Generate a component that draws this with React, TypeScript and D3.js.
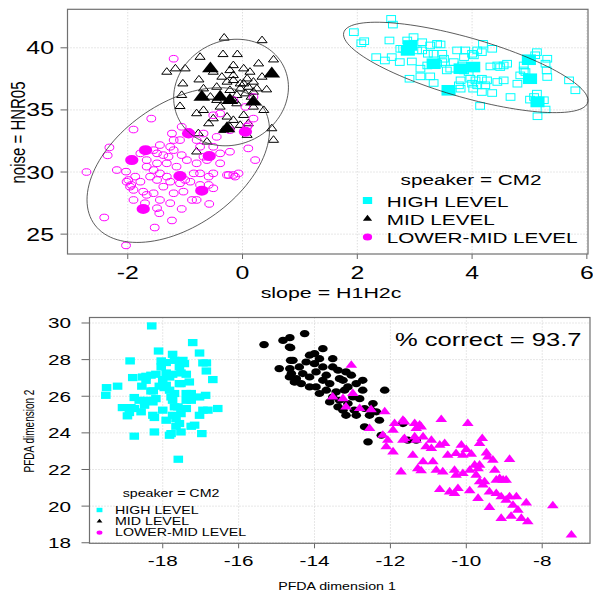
import React, { useRef, useEffect } from 'react';
import * as d3 from 'd3';

type Pt = [number, number];

const levels = ['HIGH LEVEL', 'MID LEVEL', 'LOWER-MID LEVEL'];
const levelColors = ['#00ffff', '#000000', '#ff00ff'];

// top panel: slope = H1H2c (x) vs noise = HNR05 (y)
const highTokens: Pt[] = [
  [1.94, 41.26], [2.59, 42.33], [2.62, 41.87], [2.07, 40.37], [2.12, 40.53], [2.33, 39.25], [2.48, 38.98],
  [2.56, 40.59], [2.74, 38.85], [2.95, 38.9], [2.8, 39.92], [2.87, 40.59], [2.98, 40.86], [3.13, 40.45],
  [3.27, 40.19], [3.39, 40.32], [3.45, 40.27], [3.13, 39.79], [3.23, 39.52], [3.22, 38.58], [3.39, 38.72],
  [3.48, 39.52], [3.51, 39.12], [2.91, 37.51], [3.1, 37.7], [3.27, 37.7], [3.33, 37.17], [3.77, 36.98],
  [3.8, 36.71], [3.68, 38.85], [3.86, 39.25], [4.03, 39.39], [3.74, 39.79], [3.88, 39.79], [4.0, 39.52],
  [4.09, 39.79], [4.19, 40.32], [4.17, 39.65], [4.35, 39.92], [4.06, 37.38], [4.09, 36.98], [4.02, 36.71],
  [4.17, 36.44], [4.35, 36.36], [4.44, 37.25], [4.55, 37.38], [4.14, 35.32], [4.67, 36.04], [4.49, 38.45],
  [4.55, 38.58], [4.61, 38.72], [4.84, 37.78], [4.9, 38.18], [4.93, 38.05], [5.13, 39.65], [5.31, 39.12],
  [5.28, 38.72], [5.3, 38.18], [5.31, 37.65], [5.13, 36.31], [5.01, 35.83], [5.28, 35.03], [5.14, 34.49],
  [5.69, 37.38], [5.8, 36.58], [4.26, 37.38], [4.32, 38.5], [3.83, 38.58], [3.94, 38.05], [3.86, 38.18],
  [3.62, 38.32], [3.48, 38.85], [3.56, 38.18], [4.0, 37.11], [4.17, 37.51], [3.04, 39.79], [2.9, 40.05],
  [3.33, 39.52], [2.75, 39.92], [5.1, 39.4], [4.9, 38.58], [5.08, 36.04], [5.25, 35.78], [4.79, 37.11],
  [4.44, 38.58], [3.1, 38.32], [3.97, 37.51], [3.8, 37.38], [2.6, 39.25], [4.23, 36.98],
];
const highMeans: Pt[] = [
  [2.92, 40.19], [2.88, 39.79], [3.33, 38.72], [3.59, 36.58], [4.02, 38.45], [3.8, 38.32],
  [4.99, 39.04], [5.01, 37.51], [5.14, 35.64],
];
const midTokens: Pt[] = [
  [-0.32, 40.8], [0.34, 40.59], [0.54, 39.04], [-0.74, 39.25], [-0.34, 39.47], [-0.09, 39.47], [-1.32, 38.05],
  [-1.17, 38.32], [-1.04, 37.11], [-0.76, 37.43], [-0.36, 37.65], [-0.22, 38.18], [0.02, 38.32], [-0.16, 37.38],
  [0.08, 37.51], [0.19, 37.25], [0.25, 36.71], [0.42, 36.63], [-0.04, 36.71], [0.05, 36.31], [-1.06, 36.18],
  [-0.68, 36.71], [-0.56, 36.04], [-0.39, 35.24], [-0.16, 35.78], [-0.1, 35.51], [-1.09, 35.29], [-0.8, 34.71],
  [-0.51, 34.3], [-0.27, 34.44], [-0.16, 34.17], [0.02, 34.57], [0.19, 35.24], [-0.04, 33.77], [-0.33, 33.37],
  [0.51, 33.5], [0.54, 32.57], [-0.77, 33.1], [-0.62, 32.43], [-0.8, 31.63], [-0.45, 35.78], [0.15, 36.04],
  [-0.22, 36.58], [-0.1, 36.18], [0.1, 36.84], [0.34, 37.65], [-0.51, 38.05], [-1.0, 38.32], [-0.16, 37.78],
  [0.13, 38.05], [-0.27, 37.25], [-0.04, 37.11], [-0.45, 36.84], [0.37, 34.97], [-0.68, 34.97], [-0.59, 33.9],
  [-0.22, 33.64], [0.1, 33.9], [0.08, 32.97], [-0.16, 38.58], [0.28, 38.72], [0.02, 37.11], [0.19, 36.44],
];
const midMeans: Pt[] = [
  [-0.56, 38.32], [-0.71, 36.04], [-0.39, 36.04], [-0.22, 35.78], [0.19, 35.64], [0.51, 37.91], [-0.27, 33.5],
];
const lowTokens: Pt[] = [
  [-1.2, 39.12], [-1.59, 34.3], [-1.9, 33.42], [-2.32, 31.98], [-2.35, 31.34], [-2.72, 30.0], [-2.03, 30.03],
  [-1.99, 29.36], [-1.94, 28.96], [-1.9, 28.56], [-1.9, 27.75], [-1.78, 29.22], [-1.67, 30.96], [-1.73, 28.42],
  [-1.67, 28.16], [-1.55, 28.29], [-1.7, 27.49], [-1.49, 27.09], [-1.45, 26.68], [-1.53, 25.53], [-2.41, 26.34],
  [-2.03, 24.09], [-1.23, 26.1], [-1.06, 27.03], [-0.88, 27.75], [-0.74, 28.96], [-0.59, 29.63], [-0.59, 28.96],
  [-0.58, 27.43], [-0.51, 28.69], [-0.27, 29.76], [-0.16, 29.76], [0.1, 31.9], [0.22, 30.96], [0.1, 33.77],
  [0.19, 34.3], [-0.22, 33.37], [-0.45, 32.83], [-0.68, 33.1], [-0.8, 32.57], [-0.94, 33.24], [-1.06, 33.64],
  [-1.2, 32.57], [-1.26, 32.03], [-1.44, 32.17], [-1.55, 31.76], [-1.38, 31.36], [-1.2, 31.76], [-1.06, 31.36],
  [-1.49, 30.7], [-1.32, 30.7], [-1.67, 30.43], [-1.55, 30.16], [-1.44, 29.89], [-1.32, 29.63], [-1.26, 29.22],
  [-1.09, 29.09], [-0.91, 29.22], [-0.85, 29.89], [-0.97, 30.96], [-0.8, 30.7], [-0.68, 31.23], [-0.39, 31.5],
  [-0.22, 31.63], [-0.51, 32.03], [-0.62, 30.96], [-1.61, 29.63], [-1.49, 29.36], [-1.2, 28.29], [-1.03, 28.42],
  [-1.38, 28.82], [-1.78, 31.5], [-0.39, 34.71], [-0.16, 35.78], [0.05, 35.24], [0.19, 36.04], [-0.51, 34.57],
  [0.08, 33.64], [-0.24, 29.76], [-2.02, 29.22], [-1.87, 29.63], [-2.19, 30.16], [-1.96, 28.82], [-1.44, 27.75],
  [-1.26, 27.49], [-1.0, 29.36], [-0.74, 29.89], [-1.15, 30.43], [-1.29, 31.23], [-1.49, 31.5], [-0.74, 32.03],
  [-1.09, 32.57], [-1.23, 33.1], [-0.39, 30.7], [-0.13, 29.63], [-0.07, 29.89], [-0.51, 29.89], [-0.8, 27.75],
];
const lowMeans: Pt[] = [
  [-1.93, 30.96], [-1.69, 31.76], [-0.94, 33.1], [0.05, 33.24], [-0.58, 31.28], [-1.09, 29.68], [-0.71, 28.5],
  [-1.73, 27.03],
];

// data ellipses per level: centre, half-ranges, correlation
const ellipseCx = [3.89, -0.2, -1.12];
const ellipseCy = [38.42, 36.4, 30.56];
const ellipseRx = [2.13, 1.0, 1.59];
const ellipseRy = [3.64, 4.29, 6.23];
const ellipseR = [-0.73, 0.1, 0.45];

const topXTicks = [-2, 0, 2, 4, 6];
const topYTicks = [25, 30, 35, 40];

// bottom panel: PFDA scores
const pfdaHigh: Pt[] = [
  [-18.29, 29.84], [-17.21, 28.93], [-18.11, 28.47], [-17.74, 28.29], [-17.03, 28.36], [-18.86, 27.93],
  [-18.04, 27.93], [-17.91, 27.84], [-17.69, 27.96], [-17.47, 27.96], [-17.43, 27.78], [-16.94, 27.82],
  [-16.85, 27.82], [-18.79, 27.02], [-18.44, 27.09], [-18.31, 27.15], [-18.18, 27.2], [-17.91, 27.27],
  [-17.74, 27.2], [-17.52, 27.27], [-17.38, 27.2], [-18.0, 26.91], [-17.82, 27.05], [-16.85, 27.38],
  [-16.68, 26.91], [-17.3, 26.78], [-17.52, 26.69], [-18.55, 26.55], [-18.25, 26.29], [-18.09, 26.55],
  [-17.96, 26.47], [-17.82, 26.33], [-17.69, 26.15], [-19.48, 26.47], [-19.19, 26.55], [-19.5, 26.05],
  [-17.38, 26.15], [-17.25, 26.15], [-16.87, 26.05], [-18.75, 25.93], [-18.62, 25.78], [-18.4, 25.78],
  [-18.26, 25.69], [-18.48, 25.51], [-19.06, 25.38], [-18.93, 24.93], [-18.75, 25.33], [-18.57, 25.15],
  [-18.88, 25.11], [-18.0, 25.24], [-17.69, 25.42], [-17.6, 25.42], [-17.38, 25.33], [-17.52, 25.05],
  [-17.03, 24.96], [-16.94, 25.24], [-16.81, 25.24], [-17.91, 24.69], [-17.65, 24.78], [-17.56, 24.51],
  [-17.65, 24.36], [-17.25, 24.36], [-17.16, 24.42], [-18.22, 24.05], [-18.75, 23.82], [-17.82, 23.87],
  [-17.78, 23.96], [-16.97, 23.96], [-17.59, 22.56], [-16.55, 25.33], [-18.26, 24.96], [-18.22, 24.84],
  [-18.44, 26.87], [-17.74, 25.78], [-17.38, 25.78], [-17.78, 25.96], [-18.84, 25.38], [-18.31, 26.29],
  [-18.04, 27.6], [-17.56, 27.6], [-17.91, 26.6], [-18.53, 27.05], [-17.03, 25.96], [-17.25, 25.78],
  [-17.56, 26.69], [-18.18, 25.87], [-17.74, 24.96], [-17.52, 24.05],
];
const pfdaMid: Pt[] = [
  [-15.33, 28.82], [-14.83, 29.05], [-14.65, 29.2], [-14.63, 28.65], [-14.93, 27.51], [-14.63, 27.96],
  [-14.61, 27.24], [-14.52, 26.78], [-14.65, 27.51], [-14.26, 29.42], [-14.66, 28.69], [-14.57, 27.96],
  [-14.4, 27.6], [-14.22, 27.87], [-14.13, 28.24], [-14.0, 28.33], [-13.87, 28.05], [-13.78, 27.6],
  [-14.31, 27.24], [-14.48, 26.96], [-14.13, 27.05], [-13.96, 27.33], [-13.69, 27.15], [-13.52, 27.6],
  [-13.38, 27.42], [-13.25, 26.87], [-13.12, 26.51], [-12.9, 26.69], [-12.73, 26.87], [-13.03, 27.15],
  [-13.78, 26.87], [-13.6, 26.69], [-13.96, 26.51], [-13.69, 26.33], [-13.43, 26.24], [-13.21, 26.33],
  [-13.52, 25.96], [-13.34, 25.78], [-13.6, 25.69], [-13.38, 25.42], [-13.12, 25.6], [-12.95, 25.24],
  [-12.68, 25.33], [-12.51, 25.24], [-12.37, 25.15], [-13.17, 24.96], [-12.9, 24.96], [-12.55, 24.96],
  [-12.29, 24.69], [-12.68, 24.33], [-12.59, 23.51], [-12.15, 26.33], [-12.24, 23.87], [-11.67, 24.51],
  [-11.54, 23.6], [-11.32, 23.6], [-14.53, 26.78], [-14.66, 27.05], [-12.73, 26.33], [-12.81, 25.87],
  [-13.34, 26.96], [-13.87, 26.15], [-14.13, 26.51], [-14.35, 26.69], [-13.78, 28.6], [-14.0, 27.78],
  [-13.52, 28.05], [-13.17, 27.33], [-12.46, 25.6], [-12.99, 25.96], [-13.25, 25.24],
];
const pfdaLow: Pt[] = [
  [-13.03, 27.69], [-13.52, 25.96], [-13.25, 25.87], [-12.99, 26.15], [-13.17, 25.42], [-12.81, 25.33],
  [-12.51, 25.27], [-12.15, 25.15], [-12.55, 24.24], [-12.2, 23.87], [-12.07, 23.6], [-12.11, 23.24],
  [-11.93, 22.96], [-11.89, 24.51], [-11.67, 24.69], [-11.63, 24.6], [-11.36, 24.51], [-11.23, 24.42],
  [-11.19, 24.33], [-10.66, 24.73], [-9.96, 24.51], [-11.93, 24.15], [-11.63, 23.69], [-11.36, 23.78],
  [-11.32, 23.6], [-11.14, 23.78], [-10.92, 23.6], [-11.06, 23.24], [-10.7, 23.33], [-10.57, 23.42],
  [-10.13, 23.33], [-11.41, 22.78], [-11.14, 22.42], [-10.88, 22.42], [-10.49, 22.78], [-10.27, 22.87],
  [-10.09, 22.78], [-9.87, 22.84], [-9.47, 22.91], [-9.43, 22.69], [-11.72, 21.87], [-11.28, 22.05],
  [-11.19, 21.93], [-10.79, 21.96], [-10.62, 21.87], [-10.31, 21.96], [-10.09, 21.78], [-9.91, 21.96],
  [-9.69, 22.05], [-9.78, 22.24], [-9.65, 22.24], [-9.3, 22.51], [-9.25, 21.96], [-8.86, 22.55],
  [-9.12, 21.51], [-9.03, 21.42], [-8.95, 21.42], [-10.7, 20.91], [-10.44, 20.78], [-10.31, 20.69],
  [-10.22, 20.96], [-9.91, 20.84], [-9.65, 21.33], [-9.56, 21.15], [-9.69, 20.42], [-9.39, 20.78],
  [-9.21, 20.69], [-9.08, 20.51], [-8.86, 20.51], [-8.68, 20.51], [-8.95, 20.33], [-8.42, 20.18],
  [-9.39, 19.93], [-8.77, 20.05], [-8.64, 19.78], [-7.72, 20.02], [-9.08, 19.33], [-8.82, 19.45],
  [-8.55, 19.33], [-8.38, 19.15], [-7.23, 18.42], [-11.67, 23.6], [-10.0, 23.09], [-9.65, 23.42],
  [-9.58, 23.69], [-10.92, 23.15], [-11.32, 24.24], [-9.52, 21.33], [-9.74, 21.69], [-10.27, 21.69],
  [-9.21, 21.42],
];
const botXTicks = [-18, -16, -14, -12, -10, -8];
const botYTicks = [18, 20, 22, 24, 26, 28, 30];
const percentCorrect = 93.7;

const FONT = 'Liberation Sans, Arial, Helvetica, sans-serif';
const TX = 1.38; // the original render is stretched sideways
const MX = 1.33;

const App = () => {
  const ref = useRef<SVGSVGElement>(null);

  useEffect(() => {
    const svg = d3.select(ref.current);
    svg.selectAll('*').remove();

    const text = (g: any, x: number, y: number, s: string, size: number, anchor = 'middle', rot = false) =>
      g.append('text')
        .attr('transform', `translate(${x},${y}) scale(${TX},1)${rot ? ' rotate(-90)' : ''}`)
        .attr('text-anchor', anchor)
        .attr('font-family', FONT)
        .attr('font-size', size)
        .attr('fill', '#000')
        .text(s);

    const mark = (g: any, shape: string, x: number, y: number, s: number, fill: string, stroke: string) => {
      let el;
      if (shape === 'square') {
        el = g.append('rect').attr('x', x - s * MX).attr('y', y - s).attr('width', 2 * s * MX).attr('height', 2 * s);
      } else if (shape === 'circle') {
        el = g.append('ellipse').attr('cx', x).attr('cy', y).attr('rx', s * MX).attr('ry', s);
      } else {
        el = g.append('path')
          .attr('d', `M${x},${y - s * 1.15}L${x + s * MX},${y + s * 0.58}L${x - s * MX},${y + s * 0.58}Z`);
      }
      el.attr('fill', fill).attr('stroke', stroke).attr('stroke-width', stroke === 'none' ? 0 : 1);
    };

    const frame = (g: any, x: any, y: any, xt: number[], yt: number[], box: number[], tick: number[]) => {
      const [l, r, t, b] = box;
      xt.forEach(v => {
        g.append('line').attr('x1', x(v)).attr('x2', x(v)).attr('y1', t).attr('y2', b)
          .attr('stroke', '#cfcfcf').attr('stroke-dasharray', '1,2');
        g.append('line').attr('x1', x(v)).attr('x2', x(v)).attr('y1', b).attr('y2', b + tick[0])
          .attr('stroke', '#666');
      });
      yt.forEach(v => {
        g.append('line').attr('x1', l).attr('x2', r).attr('y1', y(v)).attr('y2', y(v))
          .attr('stroke', '#cfcfcf').attr('stroke-dasharray', '1,2');
        g.append('line').attr('x1', l - tick[1]).attr('x2', l).attr('y1', y(v)).attr('y2', y(v))
          .attr('stroke', '#666');
      });
      g.append('rect').attr('x', l).attr('y', t).attr('width', r - l).attr('height', b - t)
        .attr('fill', 'none').attr('stroke', '#707070').attr('stroke-width', 1.2);
    };

    // ---------- top panel ----------
    const top = svg.append('g');
    const tBox = [67.5, 588, 9.3, 254];
    const x1 = d3.scaleLinear().domain([-3.05, 6.02]).range([tBox[0], tBox[1]]);
    const y1 = d3.scaleLinear().domain([23.4, 43.1]).range([tBox[3], tBox[2]]);
    frame(top, x1, y1, topXTicks, topYTicks, tBox, [5, 7]);

    const shapes = ['square', 'triangle', 'circle'];
    [highTokens, midTokens, lowTokens].forEach((pts, i) => {
      pts.forEach(d => mark(top, shapes[i], x1(d[0]), y1(d[1]), i === 1 ? 3.8 : 3.3, 'none', levelColors[i]));
    });
    const meanSize = [5.3, 6.3, 5];
    [highMeans, midMeans, lowMeans].forEach((pts, i) => {
      pts.forEach(d => mark(top, shapes[i], x1(d[0]), y1(d[1]), meanSize[i], levelColors[i], 'none'));
    });

    const ang = d3.range(0, 2 * Math.PI, Math.PI / 60);
    levels.forEach((_, i) => {
      const d = Math.acos(ellipseR[i]);
      const line = d3.line<number>()
        .x(t => x1(ellipseCx[i] + ellipseRx[i] * Math.cos(t)))
        .y(t => y1(ellipseCy[i] + ellipseRy[i] * Math.cos(t + d)))
        .curve(d3.curveLinearClosed);
      top.append('path').datum(ang).attr('d', line).attr('fill', 'none')
        .attr('stroke', '#333').attr('stroke-width', 0.8);
    });

    topXTicks.forEach(v => text(top, x1(v), 279, String(v), 18));
    topYTicks.forEach(v => text(top, 54, y1(v) + 6.5, String(v), 18, 'end'));
    text(top, 331, 298, 'slope = H1H2c', 15.5);
    text(top, 25, 132.5, 'noise = HNR05', 15, 'middle', true);

    text(top, 471, 185, 'speaker = CM2', 15);
    levels.forEach((lv, i) => {
      const yy = 200.5 + i * 18.2;
      mark(top, shapes[i], 367.5, yy, 3.5, levelColors[i], 'none');
      text(top, 386.7, yy + 6.5, lv, 15, 'start');
    });

    // ---------- bottom panel ----------
    const bot = svg.append('g');
    const bBox = [89.5, 590, 317.5, 543.3];
    const x2 = d3.scaleLinear().domain([-19.93, -6.74]).range([bBox[0], bBox[1]]);
    const y2 = d3.scaleLinear().domain([17.97, 30.3]).range([bBox[3], bBox[2]]);
    frame(bot, x2, y2, botXTicks, botYTicks, bBox, [5, 8]);

    pfdaHigh.forEach(d => mark(bot, 'square', x2(d[0]), y2(d[1]), 3.6, levelColors[0], 'none'));
    pfdaMid.forEach(d => mark(bot, 'circle', x2(d[0]), y2(d[1]), 3.6, levelColors[1], 'none'));
    pfdaLow.forEach(d => mark(bot, 'triangle', x2(d[0]), y2(d[1]), 4.4, levelColors[2], 'none'));

    botXTicks.forEach(v => text(bot, x2(v), 566, String(v), 15));
    botYTicks.forEach(v => text(bot, 71, y2(v) + 5.5, String(v), 15, 'end'));
    text(bot, 337, 590, 'PFDA dimension 1', 10.3);
    text(bot, 34, 431, 'PFDA dimension 2', 10, 'middle', true);
    text(bot, 395, 346, `% correct = ${percentCorrect}`, 18.5, 'start');

    text(bot, 171, 497.3, 'speaker = CM2', 10.3);
    levels.forEach((lv, i) => {
      const yy = 510 + i * 11.3;
      mark(bot, shapes[i], 99.5, yy, 2.2, levelColors[i], 'none');
      text(bot, 115, yy + 3.8, lv, 10.3, 'start');
    });
  }, []);

  return (
    <svg ref={ref} width={593} height={592}
      style={{ position: 'absolute', left: 0, top: 0, background: '#fff', display: 'block' }} />
  );
};

export default App;
